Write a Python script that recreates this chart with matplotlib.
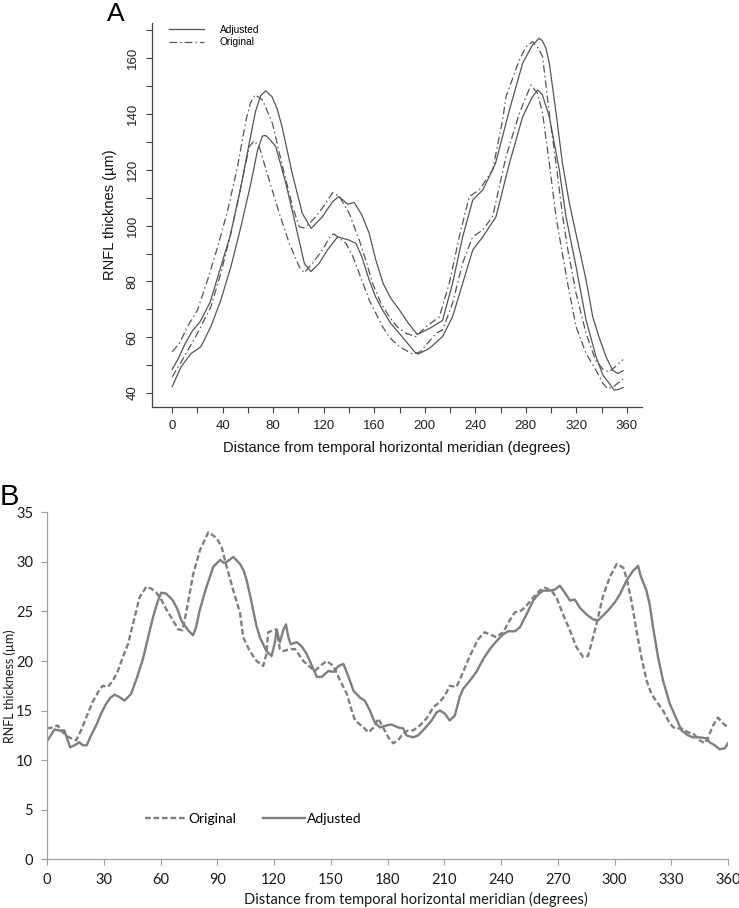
#!/usr/bin/env python3
"""
RNFL thickness profiles: (A) adjusted vs original bands, (B) single profile.
"""

import matplotlib.pyplot as plt
import numpy as np

# ---- panel A: two bands (upper / lower curve) for adjusted and original ----
adj_hi_x = [0, 5, 10, 16, 22, 30, 38, 46, 54, 61, 66, 70, 74, 79, 83, 87, 95, 103, 110,
            119, 127, 132, 139, 144, 150, 156, 161, 167, 173, 180, 187, 194, 204, 214, 222,
            230, 238, 246, 256, 267, 277.5, 285, 290.5, 293, 296, 298.6, 304, 309, 314.5,
            320, 327.7, 333, 338, 343.5, 348.8, 352.8, 357]
adj_hi_y = [48.5, 52.5, 57.5, 62.3, 65.5, 72.5, 84.5, 96.5, 113, 129.5, 141, 146.5, 148.3,
            146.2, 142, 135.4, 118.7, 104.4, 99, 103.2, 108.6, 110.4, 107.7, 108.3, 104,
            97.2, 88, 79.3, 74, 69.7, 65, 61, 63.2, 66, 79.3, 96, 109.2, 112.8, 122.3, 141.4,
            158.2, 164.5, 167.1, 166.3, 163.5, 158.2, 140.2, 122.3, 108, 96.5, 80.5, 67.3,
            60, 53, 48.2, 47, 48]

adj_lo_x = [0, 7, 15, 22.7, 30.6, 38.5, 46.5, 54.4, 62.3, 67.6, 71.5, 74, 78, 82, 90, 98,
            104.6, 109.8, 116.4, 123, 131, 140, 145.5, 150, 156, 161, 166.6, 173, 179.8,
            193, 195, 203.6, 214, 222, 230, 238, 246, 256.4, 267, 277.5, 285, 289.3, 293,
            298.6, 306.5, 311.8, 319.8, 327.7, 335.6, 341, 346, 350, 353, 357]
adj_lo_y = [42.3, 49.4, 54.2, 56.6, 63.8, 73.3, 85.3, 99.6, 115.2, 127.1, 132.1, 132.3,
            130.5, 128.3, 115.1, 99.6, 86.5, 83.5, 86.5, 91.3, 96, 94.8, 93.6, 89, 80.5,
            74.5, 69.7, 65, 61.4, 54.2, 54, 56, 60.2, 67.3, 79.3, 91.3, 96, 103.2, 122.3,
            139, 146, 148.6, 147, 139, 120, 103.2, 85.3, 66.2, 53, 46.5, 43.5, 41.1, 41.2, 42]

orig_hi_x = [0, 6, 12, 20, 28, 36, 44, 51.7, 58.4, 62, 65.7, 71.5, 79.4, 87.4, 95.3, 100.6,
             104, 108, 113.8, 120, 127, 132.3, 140.2, 148.1, 153, 158.7, 165, 171.9, 178,
             185.1, 193, 201, 211.5, 219.4, 227.3, 235.2, 243.2, 253.7, 261.6, 264.3, 274.9,
             280.2, 285.4, 290, 293.3, 298.6, 303.9, 309.2, 313, 319.8, 327.7, 335, 341, 346,
             351, 357]
orig_hi_y = [54.8, 58, 63.8, 69.7, 80.5, 92.4, 105.6, 121.1, 137.8, 144, 146.9, 145, 136.6,
             121.1, 106.8, 99.6, 99.2, 100.5, 103.2, 107, 111.8, 110.4, 104.4, 94.8, 88,
             79.3, 72.5, 67.3, 63.8, 61.4, 60.2, 63.8, 67.3, 79.3, 96, 110.4, 112.8, 119.9,
             137.8, 146.2, 159.4, 164.1, 165.9, 163.5, 160.5, 140.2, 122.3, 103.2, 92, 75.7,
             61.4, 52, 48.5, 47.6, 49.5, 52]

orig_lo_x = [0, 9.5, 20, 30.6, 38.5, 46.5, 54.4, 61, 65, 68.9, 76.8, 84.8, 92.7, 100.6,
             104.6, 111.1, 119, 125.7, 128, 137.6, 143, 148.1, 156, 166.6, 172, 179.8, 190.3,
             196.6, 208.9, 214.1, 222, 229.9, 237.9, 245.8, 253.7, 264.3, 274.9, 280, 284.1,
             289.3, 293.3, 298.6, 303.9, 313.1, 319.8, 327.7, 335.6, 341, 345, 350, 357]
orig_lo_y = [45.8, 53, 61.4, 70.9, 82.9, 97.2, 114, 128.3, 130.4, 128.3, 116.3, 104.4, 93.6,
             85.3, 83.1, 86.5, 91.3, 96.6, 97, 93.6, 89, 82.9, 73.3, 63.8, 60, 56.6, 54, 54.8,
             61.4, 62.6, 72.2, 86.5, 96, 98.4, 103.2, 124.7, 140.2, 146, 150.4, 147.4, 140.2,
             122.3, 103.2, 79.3, 63.8, 54.2, 48.2, 43.5, 41.5, 42.5, 45]

# ---- panel B: one eye, original vs adjusted ----
orig_b_x = [0, 3, 5.7, 7.4, 10, 12.7, 15.4, 18, 20.7, 24.2, 27.7, 29.5, 32.2, 34.8, 37.5,
            40.1, 42.8, 45.4, 48.9, 52.5, 55.1, 57.8, 60.4, 63.1, 66.6, 69.3, 71.6, 73.8,
            77.3, 80.9, 85.3, 89.7, 92.3, 95, 98.5, 102, 103.7, 107.2, 110.8, 114.3, 116,
            116.9, 119.6, 121.4, 123.1, 124.9, 128.4, 131.1, 135.5, 139, 141.7, 144.3,
            147.9, 151.4, 155, 158.5, 161.1, 162.9, 167.3, 170, 172.6, 175.1, 177.7, 180.4,
            183, 185.6, 188.3, 190.9, 193.6, 197.1, 200.6, 204.1, 207.7, 210.3, 212.9,
            216.5, 220, 223.5, 227.9, 231.4, 235, 237.6, 241.1, 244.6, 247.3, 250.8, 253.5,
            257, 260.5, 263.1, 266.7, 269.3, 272.8, 276.4, 279.9, 283.4, 286, 288.7, 291.3,
            294, 297.6, 301.2, 304.7, 306.3, 308.9, 311.6, 314.2, 317, 319.5, 322.2, 325.7,
            329.2, 331.8, 335.4, 338.9, 341.5, 345.1, 347.7, 349.5, 352.1, 354.7, 357.4, 360]
orig_b_y = [13.2, 13.3, 13.5, 13, 12.5, 12.2, 12, 13, 14.3, 15.9, 17.1, 17.5, 17.4, 18, 19,
            20.4, 21.7, 23.7, 26.4, 27.5, 27.3, 26.9, 26.2, 25.2, 24.1, 23.2, 23.1, 25.1,
            28.8, 31.2, 33.0, 32.4, 31.5, 29.5, 27.1, 24.9, 22.4, 21, 20, 19.5, 20.7, 22.9,
            23.1, 23.2, 21.2, 21, 21.2, 21.2, 20, 19.4, 19, 19.5, 20, 19.5, 18, 16.7, 15, 14,
            13.3, 12.8, 13.3, 14.2, 13.3, 12.3, 11.7, 12, 12.7, 13, 13, 13.5, 14.2, 15.3,
            15.9, 16.5, 17.5, 17.4, 18.9, 20.5, 22.2, 22.9, 22.6, 22.4, 22.9, 24.1, 24.9,
            25.1, 25.6, 26.4, 27.1, 27.4, 27.1, 26.4, 24.7, 23.1, 21.4, 20.4, 20.5, 22.4,
            24.4, 26.6, 28.5, 29.8, 29.4, 28.4, 26.1, 23.1, 20.4, 18, 16.7, 15.9, 15, 13.7,
            13.2, 13.2, 12.8, 12.7, 12, 11.7, 12.3, 13.5, 14.3, 13.7, 13.3]

adj_b_x = [0, 2, 4, 6, 9.2, 11, 12.2, 14.5, 17.1, 18.9, 21, 23.3, 26, 28.6, 31, 33.5, 35.7,
           38, 41, 44.5, 47.5, 50.7, 53.5, 56, 58.5, 60.4, 63, 66.6, 69, 71, 74.6, 77.2,
           78.8, 80.7, 84, 87.9, 91.5, 93.5, 95, 98.5, 102, 104, 105.6, 107.5, 109.1, 110.8,
           112.5, 116, 118.7, 120.5, 121.4, 123.1, 124.9, 126.3, 127.6, 128.8, 132, 134.6,
           137.3, 140.8, 142.6, 145.2, 148.8, 151.4, 154.1, 156.7, 159.4, 162, 165.5, 168,
           170.7, 173.3, 176, 179.5, 182.1, 185.6, 188.3, 190, 193.6, 196.2, 199.7, 203.3,
           205.9, 207.7, 210.3, 212.9, 215.6, 218.2, 220, 223.5, 227, 230.6, 234.1, 237.6,
           241.1, 243.8, 247.3, 250, 253.5, 257, 259.6, 262.3, 265.8, 268.4, 271.1, 273.7,
           276.4, 279, 281.6, 285.2, 288.7, 291.3, 294, 296.6, 300.1, 302.8, 306.3, 309.8,
           312.5, 313.8, 316.9, 318.6, 320.4, 323, 325.7, 329.2, 332.7, 335.4, 338.9, 341.5,
           345.1, 348.6, 350.3, 353, 355.6, 358.3, 360]
adj_b_y = [11.9, 12.5, 13.1, 13.0, 13, 12, 11.3, 11.5, 11.8, 11.5, 11.5, 12.5, 13.5, 14.7,
           15.6, 16.3, 16.6, 16.4, 16, 16.7, 18.3, 20.2, 22.4, 24.4, 26, 26.9, 26.8, 26.1,
           25.2, 24.1, 23.1, 22.6, 23.4, 25.1, 27.3, 29.5, 30.2, 29.9, 30, 30.5, 29.8, 29.1,
           28.1, 26.5, 25.0, 23.5, 22.4, 21, 20.5, 21.9, 23.1, 21.9, 23.1, 23.7, 22.4, 21.7,
           21.9, 21.5, 20.7, 19.2, 18.4, 18.4, 19, 18.9, 19.5, 19.7, 18.4, 17, 16.3, 16, 15,
           13.8, 13.3, 13.5, 13.6, 13.3, 13.2, 12.5, 12.3, 12.5, 13.2, 14, 14.8, 15, 14.7,
           14, 14.5, 16.4, 17.2, 18, 18.9, 20.2, 21.2, 22, 22.7, 23, 23, 23.4, 24.7, 26.1,
           26.7, 27.1, 27.1, 27.2, 27.6, 26.9, 26.1, 26.2, 25.4, 24.7, 24.2, 24.1, 24.6,
           25.1, 25.9, 26.7, 28.1, 29.1, 29.6, 28.6, 27.1, 25.7, 23.4, 20.4, 18, 15.7, 14.2,
           13, 12.5, 12.3, 12.3, 12.2, 11.8, 11.5, 11.1, 11.2, 11.7]

W, H = 739, 908
fig = plt.figure(figsize=(W / 100, H / 100), dpi=100)

# ---------------- panel A (R-style) ----------------
arial = "Liberation Sans"
ink = "#555555"
dotdash = (0, (6, 2.5, 1.2, 2.5))

axA = fig.add_axes([152 / W, 1 - 407 / H, 490 / W, 384 / H])
axA.plot(adj_hi_x, adj_hi_y, color=ink, lw=0.9, label="Adjusted")
axA.plot(orig_hi_x, orig_hi_y, color=ink, lw=0.9, ls=dotdash, label="Original")
axA.plot(adj_lo_x, adj_lo_y, color=ink, lw=0.9)
axA.plot(orig_lo_x, orig_lo_y, color=ink, lw=0.9, ls=dotdash)

axA.set_xlim(-16, 372)
axA.set_ylim(35, 172.6)
for s in ["top", "right"]:
    axA.spines[s].set_visible(False)
for s in ["left", "bottom"]:
    axA.spines[s].set_color("#444444")
    axA.spines[s].set_linewidth(0.9)

xt = np.arange(0, 361, 20)
axA.set_xticks(xt)
axA.set_xticklabels([str(v) if v % 40 == 0 else "" for v in xt], family=arial)
yt = np.arange(40, 171, 10)
axA.set_yticks(yt)
axA.set_yticklabels([str(v) if v % 20 == 0 else "" for v in yt], family=arial,
                    rotation=90, va="center")
axA.tick_params(direction="out", length=4.5, width=0.8, color="#444444",
                labelsize=9.5, labelcolor="#222222", pad=5)
axA.set_xlabel("Distance from temporal horizontal meridian (degrees)", family=arial,
               fontsize=10.5, color="#111111", labelpad=6)
axA.set_ylabel("RNFL thicknes (\u00b5m)", family=arial, fontsize=10.5,
               color="#111111", labelpad=7)
axA.legend(loc="upper left", bbox_to_anchor=(0.035, 0.995), frameon=False,
           prop={"family": arial, "size": 7.3}, handlelength=3.4,
           handletextpad=1.6, labelspacing=0.25, borderpad=0, borderaxespad=0)
fig.text(107 / W, 1 - 21 / H, "A", family=arial, fontsize=19, va="baseline")

# ---------------- panel B (Excel-style) ----------------
calib = "Lato"
grey = "#7f7f7f"

axB = fig.add_axes([47 / W, 1 - 859.3 / H, 681 / W, 347 / H])
axB.plot(orig_b_x, orig_b_y, color=grey, lw=1.7, ls=(0, (2.4, 1.2)), label="Original")
axB.plot(adj_b_x, adj_b_y, color=grey, lw=1.7, label="Adjusted")
axB.set_xlim(0, 360)
axB.set_ylim(0, 35)
for s in ["top", "right"]:
    axB.spines[s].set_visible(False)
for s in ["left", "bottom"]:
    axB.spines[s].set_color("#a0a0a0")
    axB.spines[s].set_linewidth(0.9)
axB.set_xticks(np.arange(0, 361, 30))
axB.set_yticks(np.arange(0, 36, 5))
axB.tick_params(direction="out", length=4, width=0.8, color="#a0a0a0",
                labelsize=10.5, labelcolor="#1a1a1a", pad=6)
for lab in axB.get_xticklabels() + axB.get_yticklabels():
    lab.set_family(calib)
axB.set_xlabel("Distance from temporal horizontal meridian (degrees)", family=calib,
               fontsize=10.5, color="#1a1a1a")
axB.xaxis.set_label_coords(0.542, -0.094)
axB.set_ylabel("RNFL thickness (\u00b5m)", family=calib, fontsize=9, color="#1a1a1a")
axB.yaxis.set_label_coords(-0.046, 0.5)
axB.legend(loc="center left", bbox_to_anchor=(0.144, 0.117), frameon=False, ncol=2,
           prop={"family": calib, "size": 10}, handlelength=3.0,
           handletextpad=0.15, columnspacing=1.9, borderpad=0, borderaxespad=0)
fig.text(0, 1 - 505 / H, "B", family=arial, fontsize=21, va="baseline")

fig.savefig("out.png", dpi=100)
print("[+] Saved out.png")
